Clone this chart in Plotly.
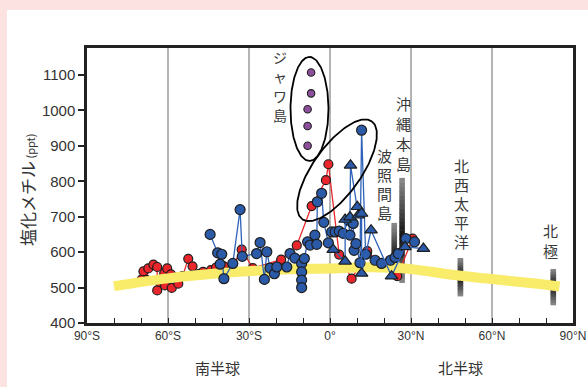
import numpy as np
import plotly.graph_objects as go

# ---- data -------------------------------------------------------------
# ship-track samples, southern cruise (red)
red_lat = [-69.7, -69.1, -67.9, -67.3, -65.4, -64.0, -64.0, -63.0, -61.4, -61.1,
           -60.3, -58.9, -58.6, -56.2, -54.6, -52.5, -50.9, -48.4, -47.0, -44.1,
           -42.2, -39.3, -37.3, -32.7, -28.6, -18.1, -12.3, -6.8, -1.5, -0.6,
           3.4, 8.0, 13.6, 13.8, 19.1, 24.9, 30.6]
red_val = [523, 546, 521, 554, 565, 558, 492, 516, 540, 506,
           554, 537, 499, 511, 532, 581, 560, 539, 544, 549,
           556, 560, 544, 607, 555, 579, 619, 730, 803, 848,
           593, 525, 594, 603, 560, 532, 638]

# ship-track samples (blue circles)
blue_lat = [-44.4, -41.6, -40.1, -40.7, -39.3, -36.0, -33.3, -32.5, -27.2, -25.9,
            -24.3, -23.4, -22.2, -20.6, -19.7, -16.0, -14.8, -13.0, -10.5, -10.5,
            -10.5, -10.5, -9.5, -8.3, -7.4, -5.6, -4.9, -4.7, -3.1, -2.3,
            -0.6, 0.6, 1.9, 3.4, 4.9, 6.8, 7.4, 8.6, 8.9, 9.6,
            11.7, 11.1, 13.2, 16.7, 19.1, 22.4, 24.1, 25.3, 28.1, 31.3]
blue_val = [650, 598, 594, 566, 525, 568, 720, 588, 596, 627,
            523, 601, 555, 539, 558, 558, 596, 583, 568, 544,
            521, 500, 582, 629, 620, 648, 622, 742, 766, 684,
            626, 657, 657, 659, 653, 690, 648, 681, 605, 624,
            944, 570, 594, 577, 568, 577, 585, 596, 638, 629]

# ship-track samples (blue triangles)
tri_lat = [1.2, 5.6, 5.6, 7.4, 7.6, 10.1, 10.5, 11.7, 11.7, 15.2, 22.8, 27.8, 34.6]
tri_val = [607, 574, 692, 699, 845, 728, 704, 709, 540, 662, 532, 615, 610]

# Java island samples
java_lat = [-7.0, -7.0, -8.3, -8.3, -8.3]
java_val = [1107, 1048, 1003, 956, 900]

# background level curve
bg_lat = [-80, -60, -40, -20, 0, 15, 30, 45, 60, 75, 85]
bg_val = [504, 526, 541, 550, 554, 557, 552, 536, 524, 512, 503]

# station ranges: latitude, min, max, darkest value
stn_lat = [23.8, 26.7, 48.3, 82.7]
stn_min = [540, 513, 475, 450]
stn_max = [681, 808, 582, 551]
stn_dark = [577, 640, 530, 506]

x_ticks = [-90, -60, -30, 0, 30, 60, 90]
x_labels = ["90°S", "60°S", "30°S", "0°", "30°N", "60°N", "90°N"]
y_ticks = [400, 500, 600, 700, 800, 900, 1000, 1100]

# ---- layout geometry ---------------------------------------------------
W, H = 588, 387
ML, MR, MT, MB = 87, 15, 48, 64
PW, PH = W - ML - MR, H - MT - MB
X0, X1 = -90, 90
Y0, Y1 = 400, 1176
PX_DEG = PW / (X1 - X0)
PX_PPT = PH / (Y1 - Y0)

JP = "Noto Sans CJK JP"
LAT = "Liberation Sans, Arial, sans-serif"

fig = go.Figure()

# station ranges as vertical grey gradient strips
shapes = []
half_w = 2.8 / PX_DEG
for lat, lo, hi, dk in zip(stn_lat, stn_min, stn_max, stn_dark):
    n = 24
    edges = np.linspace(lo, hi, n + 1)
    for i in range(n):
        mid = 0.5 * (edges[i] + edges[i + 1])
        span = (hi - dk) if mid > dk else (dk - lo)
        f = abs(mid - dk) / max(span, 1)
        g = int(15 + 125 * f)
        shapes.append(dict(type="rect", xref="x", yref="y",
                           x0=lat - half_w, x1=lat + half_w,
                           y0=edges[i], y1=edges[i + 1] + 1.5,
                           fillcolor=f"rgb({g},{g},{g})", line=dict(width=0),
                           layer="between"))

# white panel over the pink page
shapes.insert(0, dict(type="rect", xref="paper", yref="paper",
                      x0=(7 - ML) / PW, x1=(W - ML) / PW,
                      y0=-MB / PH, y1=1 + (MT - 10) / PH,
                      fillcolor="white", line=dict(width=0), layer="below"))

OUT = "#1e1e1e"

# red track
order = np.argsort(red_lat, kind="stable")
fig.add_trace(go.Scatter(
    x=np.array(red_lat)[order], y=np.array(red_val)[order], mode="lines+markers",
    line=dict(color="#e8262b", width=1.3),
    marker=dict(size=9, color="#e8262b", line=dict(color=OUT, width=1.2)),
    showlegend=False, hoverinfo="skip"))

# background curve
fig.add_trace(go.Scatter(
    x=bg_lat, y=bg_val, mode="lines",
    line=dict(color="#f8ec6a", width=10, shape="spline", smoothing=1.0),
    showlegend=False, hoverinfo="skip"))

# blue circle track
order = np.argsort(blue_lat, kind="stable")
fig.add_trace(go.Scatter(
    x=np.array(blue_lat)[order], y=np.array(blue_val)[order], mode="lines+markers",
    line=dict(color="#2f62b8", width=1.3),
    marker=dict(size=10, color="#2a5aa8", line=dict(color=OUT, width=1.2)),
    showlegend=False, hoverinfo="skip"))

# blue triangle track
order = np.argsort(tri_lat, kind="stable")
fig.add_trace(go.Scatter(
    x=np.array(tri_lat)[order], y=np.array(tri_val)[order], mode="lines+markers",
    line=dict(color="#2f62b8", width=1.3),
    marker=dict(size=11, symbol="triangle-up", color="#2a5aa8",
                line=dict(color=OUT, width=1.2)),
    showlegend=False, hoverinfo="skip"))

# Java island
fig.add_trace(go.Scatter(
    x=java_lat, y=java_val, mode="markers",
    marker=dict(size=7.5, color="#8c4f9c", line=dict(color=OUT, width=1.1)),
    showlegend=False, hoverinfo="skip"))


def ellipse(c_lat, c_val, a_px, b_px, theta_deg):
    t = np.linspace(0, 2 * np.pi, 181)
    th = np.radians(theta_deg)
    dx = a_px * np.cos(t) * np.cos(th) - b_px * np.sin(t) * np.sin(th)
    dy = a_px * np.cos(t) * np.sin(th) + b_px * np.sin(t) * np.cos(th)
    return c_lat + dx / PX_DEG, c_val + dy / PX_PPT


for cx, cy, a, b, th in [(-7.6, 1004, 52, 19, 90), (2.6, 831, 60, 24, 54.6)]:
    ex, ey = ellipse(cx, cy, a, b, th)
    fig.add_trace(go.Scatter(x=ex, y=ey, mode="lines",
                             line=dict(color="black", width=1.8),
                             showlegend=False, hoverinfo="skip"))

# vertical place labels, one character per line, stacked top to bottom
labels = [("ジャワ島", -18.5, 1069, 14, 19.3),
          ("沖縄本島", 27.4, 936, 15, 20.0),
          ("波照間島", 20.3, 793, 15, 19.0),
          ("北西太平洋", 48.8, 738, 15, 19.0),
          ("北極", 81.5, 634, 15, 20.0)]
ann = []
for txt, x, y, s, step in labels:
    n = len(txt)
    for k, ch in enumerate(txt):
        off = ((n - 1) / 2 - k) * step / PX_PPT
        ann.append(dict(text=ch, x=x, y=y + off, xref="x", yref="y",
                        showarrow=False, xanchor="center", yanchor="middle",
                        borderpad=0,
                        font=dict(family=JP, size=s, color="#3a3a3a")))

ann.append(dict(text="塩化メチル<span style='font-size:11px'> (ppt)</span>",
                x=(27 - ML) / PW, y=1 - (190 - MT) / PH, xref="paper", yref="paper",
                textangle=-90, showarrow=False, xanchor="center", yanchor="middle",
                font=dict(family=JP, size=17, color="#333333")))
for txt, px in [("南半球", 217), ("北半球", 460)]:
    ann.append(dict(text=txt, x=(px - ML) / PW, y=-(367 - (H - MB)) / PH,
                    xref="paper", yref="paper", showarrow=False,
                    xanchor="center", yanchor="middle",
                    font=dict(family=JP, size=15, color="#333333")))

fig.update_layout(
    width=W, height=H, autosize=False,
    margin=dict(l=ML, r=MR, t=MT, b=MB, pad=0, autoexpand=False),
    paper_bgcolor="#fde2e2", plot_bgcolor="white",
    shapes=shapes, annotations=ann,
    xaxis=dict(range=[X0, X1], tickvals=x_ticks, ticktext=x_labels,
               automargin=False,
               showgrid=True, gridcolor="#b4b4b4", gridwidth=1.5,
               zeroline=False, showline=True, linecolor="#222222", linewidth=2.5,
               mirror=True, ticks="inside", ticklen=5, tickwidth=1.2,
               tickcolor="#222222",
               minor=dict(dtick=10, tick0=0, ticks="inside", ticklen=5,
                          tickwidth=1.2, tickcolor="#222222", showgrid=False),
               tickfont=dict(family=LAT, size=12, color="#333333")),
    yaxis=dict(range=[Y0, Y1], tickvals=y_ticks, showgrid=False, zeroline=False,
               automargin=False,
               showline=True, linecolor="#222222", linewidth=2.5, mirror=True,
               ticks="outside", ticklen=6, tickwidth=1.5, tickcolor="#222222",
               tickfont=dict(family=LAT, size=15, color="#333333")),
)

fig.write_html("out.html")
